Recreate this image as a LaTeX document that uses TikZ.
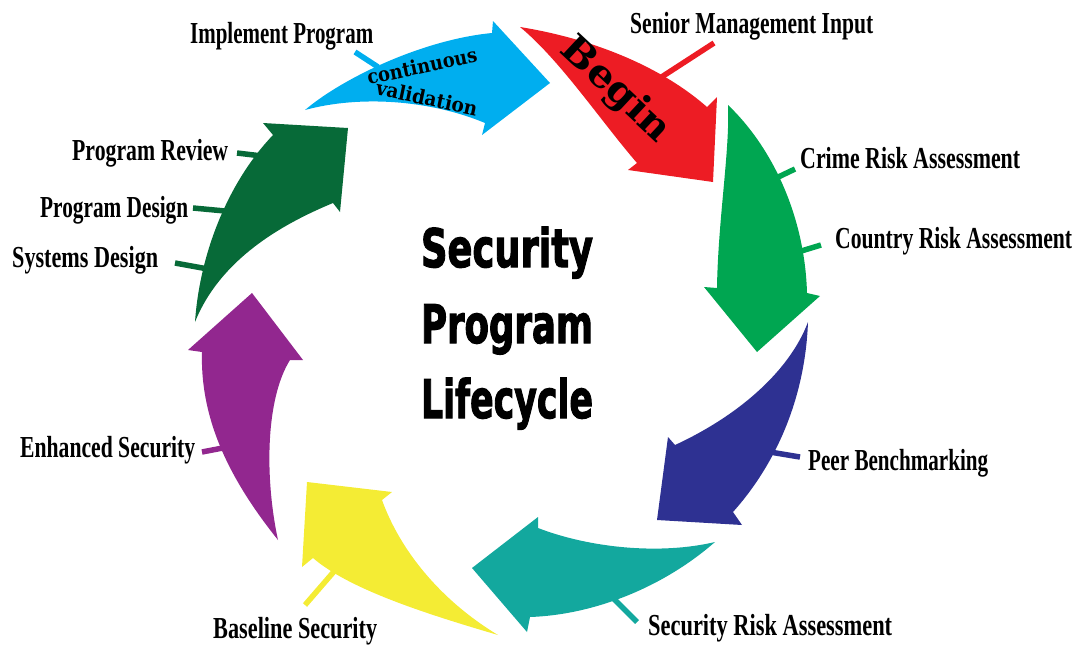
\documentclass[tikz,border=0pt]{standalone}
\usepackage{fontspec}
\usepackage{graphicx}
\setmainfont{Liberation Serif}
\newfontfamily\titlefont[BoldFeatures={FakeBold=2.5}]{DejaVu Sans}
\newfontfamily\slabfont{DejaVu Serif}
\definecolor{cblue}{HTML}{00AEEF}
\definecolor{cred}{HTML}{ED1C24}
\definecolor{cgreen}{HTML}{00A651}
\definecolor{cnavy}{HTML}{2E3192}
\definecolor{cteal}{HTML}{13A89E}
\definecolor{cyellow}{HTML}{F4EC34}
\definecolor{cpurple}{HTML}{92278F}
\definecolor{cdkgreen}{HTML}{076A38}
\newcommand\lbl[2]{\resizebox{#1pt}{\height}{\fontsize{30.5}{30}\selectfont\bfseries #2}}
\newcommand\ttl[1]{\resizebox{172pt}{\height}{\titlefont\bfseries\fontsize{53}{53}\selectfont #1}}
\newcommand\slab[3]{\resizebox{#1pt}{\height}{\slabfont\bfseries\fontsize{#2}{#2}\selectfont #3}}
\begin{document}
\begin{tikzpicture}[x=1pt,y=-1pt,
  lab/.style={inner sep=0pt,anchor=base west,text=black},
  tick/.style={line width=5.5pt,line cap=butt}]
\useasboundingbox (0,0) rectangle (1076,645);
% tick coordinates
\coordinate (k1a) at (355,52);  \coordinate (k1b) at (378,67);
\coordinate (k2a) at (714,43);  \coordinate (k2b) at (660,78);
\coordinate (k3a) at (795,169); \coordinate (k3b) at (772,180);
\coordinate (k4a) at (821,245); \coordinate (k4b) at (798,252);
\coordinate (k5a) at (800,457); \coordinate (k5b) at (770,452);
\coordinate (k6a) at (637,622); \coordinate (k6b) at (613,598);
\coordinate (k7a) at (305,605); \coordinate (k7b) at (337,568);
\coordinate (k8a) at (202,452); \coordinate (k8b) at (228,447);
\coordinate (k9a) at (175,263); \coordinate (k9b) at (208,269);
\coordinate (k10a) at (193,208); \coordinate (k10b) at (225,211);
\coordinate (k11a) at (237,153); \coordinate (k11b) at (262,156);
\draw[tick,cblue] (k1a) -- (k1b);
\draw[tick,cred] (k2a) -- (k2b);
\draw[tick,cgreen] (k3a) -- (k3b);
\draw[tick,cgreen] (k4a) -- (k4b);
\draw[tick,cnavy] (k5a) -- (k5b);
\draw[tick,cteal] (k6a) -- (k6b);
\draw[tick,cyellow] (k7a) -- (k7b);
\draw[tick,cpurple] (k8a) -- (k8b);
\draw[tick,cdkgreen] (k9a) -- (k9b);
\draw[tick,cdkgreen] (k10a) -- (k10b);
\draw[tick,cdkgreen] (k11a) -- (k11b);
% arrows
\fill[cblue] (305,110) .. controls (340,80) and (420,40) .. (492,33) -- (493,21) -- (550,83) -- (482,135) -- (485,123) .. controls (430,100) and (360,95) .. cycle;
\fill[cred] (520,27) .. controls (600,40) and (665,70) .. (707,107) -- (717,97) -- (713,182) -- (628,170) -- (637,163) .. controls (600,120) and (560,60) .. cycle;
\fill[cgreen] (728,105) .. controls (775,150) and (805,220) .. (807,293) -- (820,296) -- (757,352) -- (704,287) -- (717,288) .. controls (718,220) and (730,150) .. cycle;
\fill[cnavy] (808,322) .. controls (805,400) and (775,465) .. (733,512) -- (742,525) -- (657,520) -- (668,437) -- (675,445) .. controls (740,415) and (790,370) .. cycle;
\fill[cteal] (715,542) .. controls (660,590) and (590,615) .. (530,617) -- (527,632) -- (472,568) -- (538,517) -- (538,528) .. controls (590,548) and (660,555) .. cycle;
\fill[cyellow] (498,635) .. controls (430,615) and (350,590) .. (313,558) -- (302,567) -- (307,482) -- (392,492) -- (382,500) .. controls (400,550) and (440,600) .. cycle;
\fill[cpurple] (278,540) .. controls (230,480) and (200,420) .. (202,352) -- (188,350) -- (252,293) -- (303,360) -- (290,360) .. controls (265,400) and (265,480) .. cycle;
\fill[cdkgreen] (195,322) .. controls (200,250) and (230,180) .. (273,135) -- (263,123) -- (348,128) -- (340,212) -- (333,203) .. controls (280,225) and (220,260) .. cycle;
% texts on arrows
\node[inner sep=0pt,rotate=-43] (begin) at (615,90) {\slab{135}{38}{Begin}};
\node[inner sep=0pt,rotate=12] (cont) at (422,66) {\slab{112}{20}{continuous}};
\node[inner sep=0pt,rotate=-12] (valid) at (427,98) {\slab{103}{20}{validation}};
% labels
\node[lab] (implement) at (190,43) {\lbl{183}{Implement Program}};
\node[lab] (senior) at (630,33) {\lbl{243}{Senior Management Input}};
\node[lab] (crime) at (800,168) {\lbl{220}{Crime Risk Assessment}};
\node[lab] (country) at (835,248) {\lbl{237}{Country Risk Assessment}};
\node[lab] (peer) at (808,470) {\lbl{180}{Peer Benchmarking}};
\node[lab] (secrisk) at (648,635) {\lbl{244}{Security Risk Assessment}};
\node[lab] (baseline) at (213,638) {\lbl{164}{Baseline Security}};
\node[lab] (enhanced) at (20,457) {\lbl{175}{Enhanced Security}};
\node[lab] (systems) at (12,267) {\lbl{146}{Systems Design}};
\node[lab] (pdesign) at (40,217) {\lbl{148}{Program Design}};
\node[lab] (review) at (72,160) {\lbl{156}{Program Review}};
% centre title
\node[inner sep=0pt,anchor=base] (t1) at (507,267) {\ttl{Security}};
\node[inner sep=0pt,anchor=base] (t2) at (507,343) {\ttl{Program}};
\node[inner sep=0pt,anchor=base] (t3) at (507,418) {\ttl{Lifecycle}};
\end{tikzpicture}
\end{document}
